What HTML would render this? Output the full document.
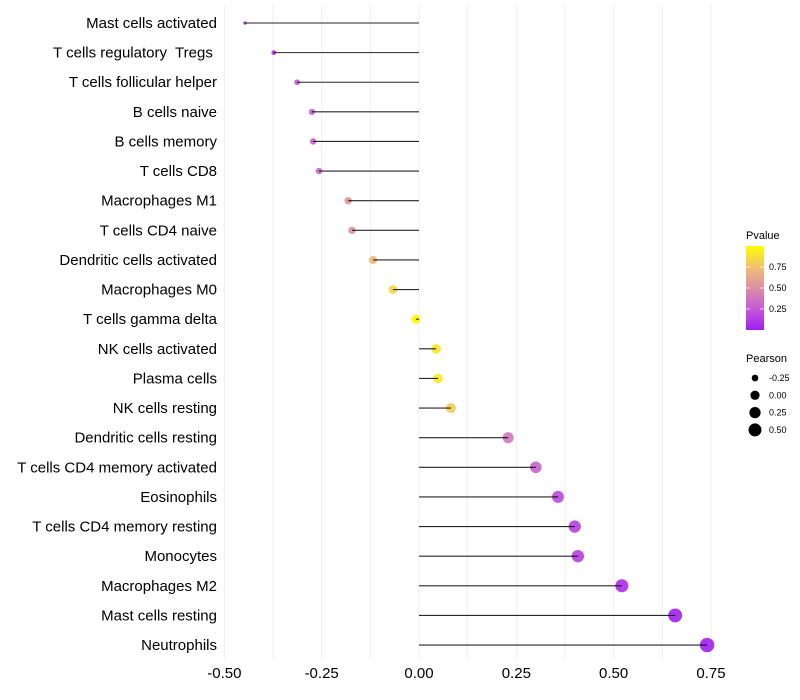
<!DOCTYPE html>
<html><head><meta charset="utf-8"><style>
body{margin:0;background:#fff;font-family:"Liberation Sans",sans-serif;}
svg{display:block}
text{white-space:pre}
</style></head><body>
<svg id="chart" width="800" height="700"></svg>
<script>
const categories=["Mast cells activated","T cells regulatory  Tregs ","T cells follicular helper","B cells naive","B cells memory","T cells CD8","Macrophages M1","T cells CD4 naive","Dendritic cells activated","Macrophages M0","T cells gamma delta","NK cells activated","Plasma cells","NK cells resting","Dendritic cells resting","T cells CD4 memory activated","Eosinophils","T cells CD4 memory resting","Monocytes","Macrophages M2","Mast cells resting","Neutrophils"];
const pearson=[-0.447,-0.373,-0.313,-0.275,-0.272,-0.257,-0.182,-0.172,-0.118,-0.067,-0.008,0.044,0.049,0.082,0.229,0.30,0.357,0.40,0.408,0.521,0.658,0.74];
const pvalues=[0.04,0.12,0.25,0.3,0.3,0.33,0.55,0.55,0.72,0.85,0.98,0.9,0.92,0.8,0.4,0.3,0.2,0.15,0.15,0.08,0.03,0.02];
const xTicks=[-0.5,-0.25,0,0.25,0.5,0.75];
const xTickLabels=["-0.50","-0.25","0.00","0.25","0.50","0.75"];
const pTicks=[0.25,0.5,0.75];
const sizeLegend=[-0.25,0,0.25,0.5];

const NS="http://www.w3.org/2000/svg";
const svg=document.getElementById("chart");
function el(tag,attrs,parent){const e=document.createElementNS(NS,tag);for(const k in attrs)e.setAttribute(k,attrs[k]);(parent||svg).appendChild(e);return e;}
const x=v=>419+v*389.3;
const y=i=>23+i*29.62;
const r=p=>Math.sqrt(Math.max(1.5,21.3+41.3*p));
const stops=[[0,[160,30,240]],[0.25,[196,90,214]],[0.5,[220,143,168]],[0.75,[240,192,112]],[1,[255,255,0]]];
function col(p){for(let i=1;i<stops.length;i++){if(p<=stops[i][0]){const a=stops[i-1],b=stops[i];const t=(p-a[0])/(b[0]-a[0]);const c=a[1].map((v,k)=>Math.round(v+(b[1][k]-v)*t));return `rgb(${c})`;}}return "rgb(255,255,0)";}

for(let v=-0.5;v<=0.751;v+=0.125){
  const g=el("line",{x1:x(v),x2:x(v),y1:5,y2:660,stroke:"#efefef","stroke-width":1});
  
  
}
xTicks.forEach((v,i)=>{
  const t=el("text",{x:x(v),y:678,"text-anchor":"middle","font-size":15,fill:"#000"});
  t.textContent=xTickLabels[i];
  
  
});
categories.forEach((c,i)=>{
  const t=el("text",{x:217,y:y(i)+5,"text-anchor":"end","font-size":15,fill:"#000"});
  t.textContent=c;
  
  
  const d=el("circle",{cx:x(pearson[i]),cy:y(i),r:r(pearson[i]),fill:col(pvalues[i]),"fill-opacity":0.92});
  
  
  const s=el("line",{x1:x(0),x2:x(pearson[i]),y1:y(i),y2:y(i),stroke:"#000","stroke-width":1.1,"stroke-opacity":0.85});
  
  
});
const defs=el("defs",{});
const lg=el("linearGradient",{id:"pg",x1:0,y1:1,x2:0,y2:0},defs);
stops.forEach(s=>el("stop",{offset:s[0],"stop-color":`rgb(${s[1]})`},lg));
const lt=el("text",{x:746,y:239,"font-size":11});lt.textContent="Pvalue";


const bar=el("rect",{x:746,y:246,width:18,height:84,fill:"url(#pg)"});


pTicks.forEach(p=>{
  const yy=330-p*84;
  el("line",{x1:746,x2:750,y1:yy,y2:yy,stroke:"#fff","stroke-opacity":0.7});
  el("line",{x1:760,x2:764,y1:yy,y2:yy,stroke:"#fff","stroke-opacity":0.7});
  const t=el("text",{x:769,y:yy+3,"font-size":9});t.textContent=p.toFixed(2);
  
  
});
const st=el("text",{x:746,y:362,"font-size":11});st.textContent="Pearson";


sizeLegend.forEach((p,i)=>{
  const yy=378+i*17.3;
  const c=el("circle",{cx:755,cy:yy,r:r(p),fill:"#000"});
  
  
  const t=el("text",{x:769,y:yy+3,"font-size":9});t.textContent=p.toFixed(2);
  
  
});
</script>
</body></html>
